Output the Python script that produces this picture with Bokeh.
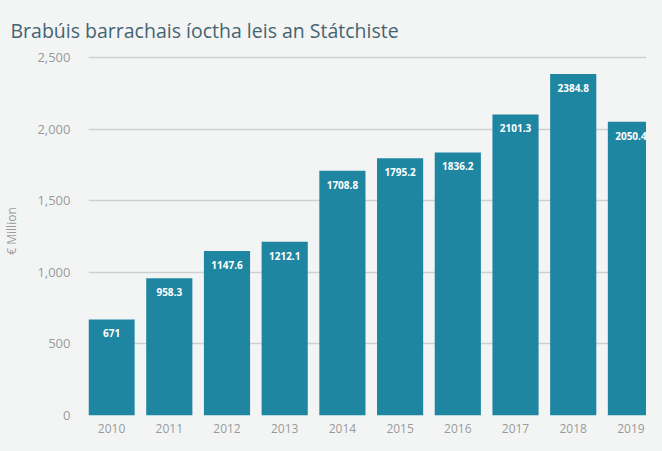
from bokeh.plotting import figure
from bokeh.models import ColumnDataSource, FixedTicker, NumeralTickFormatter, Range1d
from bokeh.embed import file_html
from bokeh.resources import INLINE
from bokeh.core.properties import value

years = [2010, 2011, 2012, 2013, 2014, 2015, 2016, 2017, 2018, 2019]
amounts = [671, 958.3, 1147.6, 1212.1, 1708.8, 1795.2, 1836.2, 2101.3, 2384.8, 2050.4]
labels = ["671", "958.3", "1147.6", "1212.1", "1708.8", "1795.2", "1836.2", "2101.3", "2384.8", "2050.4"]
y_ticks = [0, 500, 1000, 1500, 2000, 2500]

BG = "#f3f5f5"
BAR = "#1f86a2"

src = ColumnDataSource(dict(x=years, top=amounts, label=labels))

p = figure(width=646, height=435, output_backend="svg", toolbar_location=None,
           x_range=Range1d(2009.6, 2019.27), y_range=Range1d(0, 2576),
           background_fill_color=BG, border_fill_color=BG,
           min_border_left=85, min_border_right=0, min_border_top=46, min_border_bottom=16,
           outline_line_color=None,
           title="Brabúis barrachais íoctha leis an Státchiste")

p.title.text_font = "Open Sans"
p.title.text_font_size = "19.5px"
p.title.text_font_style = "normal"
p.title.text_color = "#456470"
p.title.align = "left"
p.title.offset = -78
p.title.standoff = 6

p.vbar(x="x", top="top", width=0.8, source=src, fill_color=BAR, line_color=None)
p.text(x="x", y="top", text="label", source=src, text_color="white",
       text_font=value("Open Sans"), text_font_size="10px", text_font_style="bold",
       text_align="center", text_baseline="top", y_offset=10)

p.xaxis.ticker = FixedTicker(ticks=years)
p.xaxis.axis_line_color = None
p.xaxis.major_tick_line_color = None
p.xaxis.minor_tick_line_color = None
p.xaxis.major_label_text_font = "Open Sans"
p.xaxis.major_label_text_font_size = "12px"
p.xaxis.major_label_text_color = "#9a9a9a"
p.xaxis.major_label_standoff = 2

p.yaxis.ticker = FixedTicker(ticks=y_ticks)
p.yaxis.formatter = NumeralTickFormatter(format="0,0")
p.yaxis.axis_line_color = None
p.yaxis.major_tick_line_color = None
p.yaxis.minor_tick_line_color = None
p.yaxis.major_label_text_font = "Open Sans"
p.yaxis.major_label_text_font_size = "13px"
p.yaxis.major_label_text_color = "#9a9a9a"
p.yaxis.major_label_standoff = 12
p.yaxis.axis_label = "€ Million"
p.yaxis.axis_label_text_font = "Open Sans"
p.yaxis.axis_label_text_font_size = "12px"
p.yaxis.axis_label_text_font_style = "normal"
p.yaxis.axis_label_text_color = "#9a9a9a"
p.yaxis.axis_label_standoff = 14

p.xgrid.grid_line_color = None
p.ygrid.grid_line_color = "#cfcfcf"
p.ygrid.grid_line_width = 1.5

html = file_html(p, INLINE)
html = html.replace("</head>", "<style>html, body { background: %s; }</style></head>" % BG, 1)
open("out.html", "w").write(html)
